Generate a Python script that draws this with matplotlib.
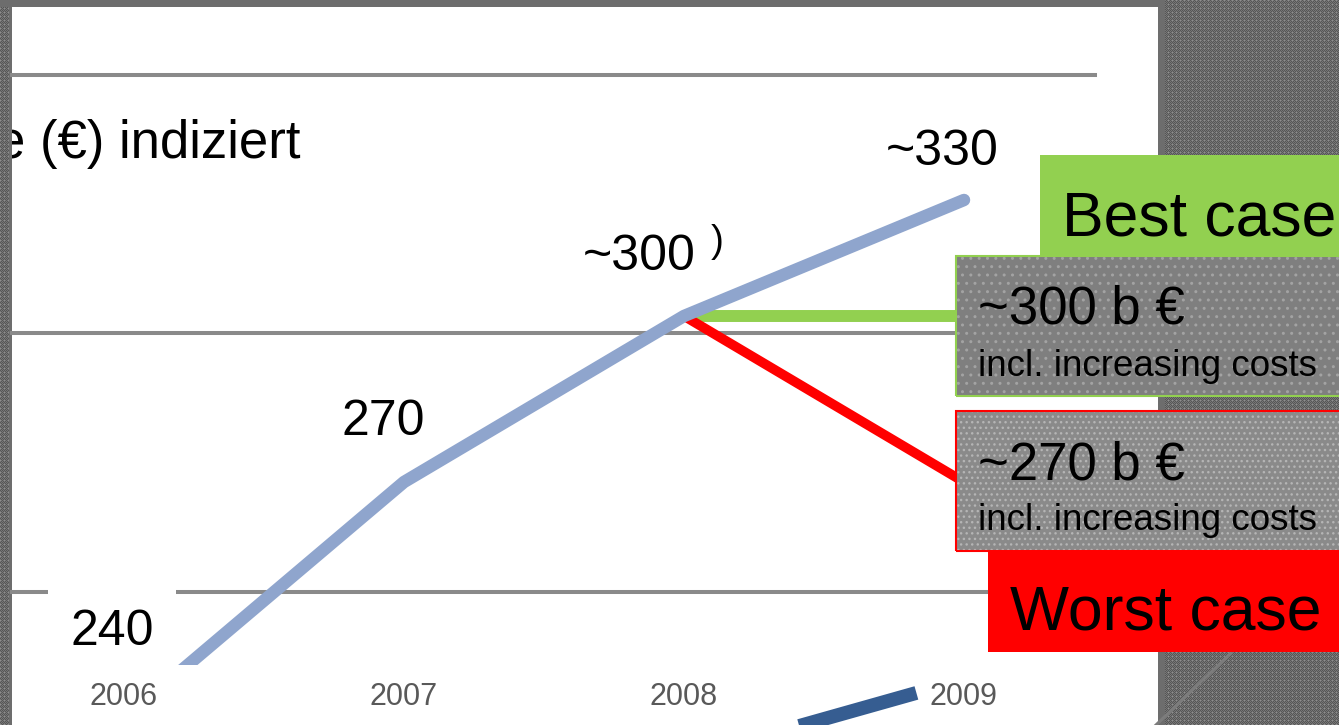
import numpy as np
import matplotlib
matplotlib.use("Agg")
import matplotlib.pyplot as plt
from matplotlib.patches import Rectangle
from matplotlib.lines import Line2D

W, H = 1339, 725

# chart data
years = [2006, 2007, 2008, 2009]
total = [240, 270, 300, 330]
point_labels = ["240", "270", "~300", "~330"]
best_years = [2008, 2009]
best = [300, 300]
worst_years = [2008, 2009]
worst = [300, 270]
# tail of the lower series, only visible under the axis
lower_years = [2008.2, 2008.83]
lower = [237.0, 243.3]

# slide uses uneven vertical spacing: value -> pixels above figure bottom
scale_vals = np.array([0, 240, 270, 300, 330, 1000])
scale_px = np.array([6 - 240 * 237 / 30, 6, 243, 409, 525, 525 + 670 * 116 / 30])


def fwd(v):
    return np.interp(v, scale_vals, scale_px)


def inv(p):
    return np.interp(p, scale_px, scale_vals)


def fx(x):
    return x / W


def fy(y):
    return 1 - y / H


plt.rcParams['font.family'] = ['Liberation Sans', 'DejaVu Sans']

fig = plt.figure(figsize=(W / 100, H / 100), dpi=100)

# textured slide background with the white chart panel
yy, xx = np.mgrid[0:H, 0:W]
tex = np.where((xx + yy) % 2 == 0, 0.34, 0.47)
tex = np.where((xx % 4 == 0) & (yy % 4 == 0), 0.56, tex)
bg = np.repeat(tex[..., None], 3, axis=2)
bg[0:7, 0:1165] = 0.43
bg[7:, 9:12] = 0.43
bg[7:, 12:1158] = 1.0
bg[7:, 1158:1165] = 0.43
fig.figimage(bg, xo=0, yo=0, origin='upper', zorder=-5)

# table rules behind the chart
for y, x0, x1 in [(75, 12, 1095), (333, 12, 1000), (592, 12, 1000)]:
    fig.add_artist(Line2D([fx(x0), fx(x1)], [fy(y), fy(y)], transform=fig.transFigure,
                          color='#8a8a8a', lw=2.9, zorder=-1))
fig.add_artist(Line2D([fx(1156), fx(1232)], [fy(725), fy(652)], transform=fig.transFigure,
                      color='#7c7c7c', lw=2.2, zorder=-1))

ax = fig.add_axes([fx(12), 60 / H, (1158 - 12) / W, (717 - 60) / H])
ax.set_facecolor('none')
ax.set_yscale('function', functions=(fwd, inv))
ax.set_ylim(inv(60), inv(717))
ax.set_xlim(2007 + (12 - 404) / 280, 2007 + (1158 - 404) / 280)
for s in ax.spines.values():
    s.set_visible(False)
ax.set_yticks([])
ax.set_xticks(years)
ax.set_xticklabels([str(y) for y in years], color='#595959', fontsize=22)
ax.tick_params(axis='x', length=0, pad=12)

ax.plot(best_years, best, color='#92d050', lw=8.6, solid_capstyle='butt', zorder=2)
ax.plot(worst_years, worst, color='#ff0000', lw=7, solid_capstyle='butt', zorder=2)
ax.plot(years, total, color='#8fa5cd', lw=9, solid_capstyle='round', zorder=4)
ax.plot(lower_years, lower, color='#365d91', lw=10, solid_capstyle='butt', clip_on=False, zorder=4)

# value labels, offsets in pixels
offsets = [(-12, -74), (-21, -47), (-45, -46), (-22, -35)]
for yr, v, lbl, (dx, dy) in zip(years, total, point_labels, offsets):
    kw = {}
    if lbl == "240":
        kw['bbox'] = dict(boxstyle='square,pad=0.44', fc='white', ec='none')
    ax.annotate(lbl, (yr, v), xytext=(dx * 0.72, -dy * 0.72), textcoords='offset points',
                ha='center', va='baseline', fontsize=36, color='black',
                annotation_clip=False, zorder=3, **kw)

ax.text(fx(300), fy(158), "e (\u20ac) indiziert", transform=fig.transFigure, ha='right',
        va='baseline', fontsize=38, clip_on=True)
ax.text(fx(717), fy(252), ")", transform=fig.transFigure, ha='center', va='baseline',
        fontsize=28)

# scenario boxes on the right
def box(x0, y0, x1, y1, **kw):
    r = Rectangle((fx(x0), fy(y1)), fx(x1) - fx(x0), fy(y0) - fy(y1),
                  transform=fig.transFigure, **kw)
    fig.add_artist(r)


box(1040, 155, 1345, 256, fc='#92d050', ec='none', zorder=5)
box(956, 256, 1345, 396, fc='#7f7f7f', ec='#a3a3a3', lw=0, hatch='..', zorder=5)
box(956, 256, 1345, 396, fc='none', ec='#92d050', lw=1.5, zorder=5)
box(956, 411, 1345, 551, fc='#8a8a8a', ec='#b5b5b5', lw=0, hatch='...', zorder=5)
box(956, 411, 1345, 551, fc='none', ec='#ff0000', lw=1.5, zorder=5)
box(988, 551, 1345, 652, fc='#ff0000', ec='none', zorder=5)

fig.text(fx(1062), fy(235), "Best case", fontsize=45, va='baseline', zorder=6)
fig.text(fx(978), fy(324), "~300 b \u20ac", fontsize=38, va='baseline', zorder=6)
fig.text(fx(978), fy(376), "incl. increasing costs", fontsize=26.5, va='baseline', zorder=6)
fig.text(fx(978), fy(480), "~270 b \u20ac", fontsize=38, va='baseline', zorder=6)
fig.text(fx(978), fy(530), "incl. increasing costs", fontsize=26.5, va='baseline', zorder=6)
fig.text(fx(1010), fy(630), "Worst case", fontsize=45, va='baseline', zorder=6)

fig.savefig('out.png', dpi=100)
